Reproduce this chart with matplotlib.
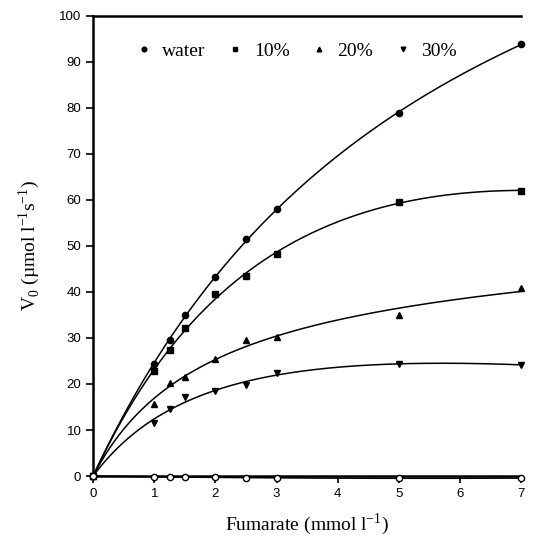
import numpy as np
import matplotlib.pyplot as plt

# Fumarate concentration (mmol l-1)
fumarate = [0, 1, 1.25, 1.5, 2, 2.5, 3, 5, 7]

# V0 values
water = [0, 24.3, 29.5, 35.0, 43.2, 51.5, 58.0, 78.8, 93.9]
pct10 = [0, 22.8, 27.3, 32.2, 39.5, 43.5, 48.2, 59.6, 62.0]
pct20 = [0, 15.6, 20.2, 21.6, 25.5, 29.6, 30.2, 35.0, 40.8]
pct30 = [0, 11.6, 14.5, 17.2, 18.5, 19.7, 22.4, 24.3, 24.2]
control = [0, -0.2, -0.2, -0.3, -0.3, -0.4, -0.4, -0.4, -0.5]

series = [
    ('water', water, 'o'),
    ('10%', pct10, 's'),
    ('20%', pct20, '^'),
    ('30%', pct30, 'v'),
]


def fit_curve(x, y, xs):
    # Michaelis-Menten + linear term, K found by grid search
    best = None
    for K in np.linspace(0.2, 30, 600):
        A = np.vstack([x/(K + x), x]).T
        c = np.linalg.lstsq(A, y, rcond=None)[0]
        err = np.sum((A @ c - y)**2)
        if best is None or err < best[0]:
            best = (err, K, c)
    _, K, c = best
    return c[0]*xs/(K + xs) + c[1]*xs


fig = plt.figure(figsize=(5.48, 5.4), dpi=100)
ax = fig.add_axes([0.170, 0.1185, 0.781, 0.852])

x = np.array(fumarate, dtype=float)
xs = np.linspace(0, 7, 300)

handles = []
for name, vals, mk in series:
    y = np.array(vals, dtype=float)
    ax.plot(xs, fit_curve(x, y, xs), color='black', lw=1.1)
    h, = ax.plot(x, y, linestyle='none', marker=mk, color='black',
                 markersize=4.5, clip_on=False, zorder=4)
    handles.append(h)

# control (open circles), essentially zero
A = np.vstack([x, x**2]).T
coef = np.linalg.lstsq(A, np.array(control), rcond=None)[0]
ax.plot(xs, coef[0]*xs + coef[1]*xs**2, color='black', lw=1.1, clip_on=False)
ax.plot(x, control, linestyle='none', marker='o', markerfacecolor='white',
        markeredgecolor='black', markersize=4.5, clip_on=False, zorder=5)

ax.set_xlim(0, 7)
ax.set_ylim(0, 100)
ax.set_xticks(range(0, 8))
ax.set_yticks(range(0, 101, 10))

for lab in ax.get_xticklabels() + ax.get_yticklabels():
    lab.set_fontfamily('Liberation Sans')
    lab.set_fontsize(9.5)

ax.tick_params(direction='out', length=5, width=1.2)
ax.spines['right'].set_visible(False)
for s in ['left', 'bottom', 'top']:
    ax.spines[s].set_linewidth(1.8)

ax.set_xlabel('Fumarate (mmol l$^{\\mathdefault{-1}}$)', fontfamily='Liberation Serif',
              fontsize=14, labelpad=8)
ax.set_ylabel('V$_{\\mathdefault{0}}$ (\u00b5mol l$^{\\mathdefault{-1}}$s$^{\\mathdefault{-1}}$)',
              fontfamily='Liberation Serif', fontsize=14, labelpad=12)

leg = ax.legend(handles, [s[0] for s in series], loc='center left',
                bbox_to_anchor=(0.1005, 0.924), ncol=4, frameon=False,
                borderpad=0, borderaxespad=0,
                prop={'family': 'Liberation Serif', 'size': 14},
                handlelength=0.8, handletextpad=0.55, columnspacing=1.12,
                markerscale=0.75)

plt.savefig('out.png', dpi=100)
